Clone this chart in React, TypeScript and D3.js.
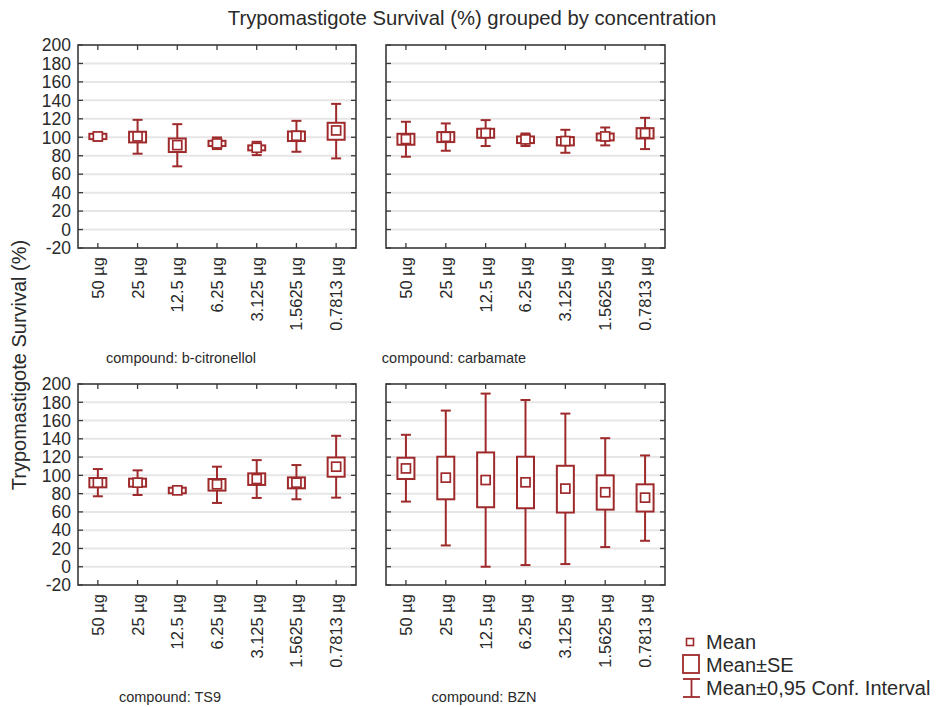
import React from "react";
import * as d3 from "d3";

const categories = ["50 µg", "25 µg", "12.5 µg", "6.25 µg", "3.125 µg", "1.5625 µg", "0.7813 µg"];
const compounds = ["b-citronellol", "carbamate", "TS9", "BZN"];
const yTicks = [-20, 0, 20, 40, 60, 80, 100, 120, 140, 160, 180, 200];

// b-citronellol
const citMean = [100.9, 100.9, 91.5, 93.3, 88.6, 101.6, 107.4];
const citSeLo = [98, 94.4, 84, 90.5, 85.8, 95.9, 97.3];
const citSeHi = [103.8, 106, 98.7, 96.2, 91.2, 106.3, 115.7];
const citCiLo = [96.2, 82.2, 68.5, 87.2, 80.7, 84.3, 77.1];
const citCiHi = [105, 118.9, 114.2, 99.8, 95.1, 117.8, 136.2];

// carbamate
const carMean = [98.0, 100.5, 104.5, 97.7, 95.9, 100.9, 104.5];
const carSeLo = [91.9, 94.8, 99.5, 93.7, 91.2, 96.6, 98.7];
const carSeHi = [103.8, 105.6, 109.2, 100.9, 100.2, 104.1, 109.9];
const carCiLo = [78.9, 85.4, 90.5, 90.5, 83.2, 91.2, 87.2];
const carCiHi = [116.8, 115, 118.6, 104.1, 108.1, 110.6, 121.1];

// TS9
const ts9Mean = [92, 92, 83.6, 90.2, 96, 92, 109.5];
const ts9SeLo = [86.9, 87.6, 80.4, 83.3, 89.5, 85.8, 98.5];
const ts9SeHi = [97.1, 96.4, 86.5, 96, 102.2, 97.8, 119.6];
const ts9CiLo = [77.1, 78.5, 79.6, 69.8, 75.3, 73.8, 75.6];
const ts9CiHi = [106.9, 105.5, 87.3, 109.5, 116.7, 111.3, 143.3];

// BZN
const bznMean = [107.6, 97.5, 94.9, 92.4, 85.5, 81.5, 75.6];
const bznSeLo = [96, 73.8, 65.1, 64, 59.3, 62.5, 60.4];
const bznSeHi = [119.3, 120.4, 125.1, 120.4, 110.5, 100, 90.2];
const bznCiLo = [71.3, 23.3, 0, 1.8, 2.9, 21.5, 28.4];
const bznCiHi = [144.4, 170.9, 189.5, 182.5, 167.6, 140.7, 121.8];

const seriesData = [
  { mean: citMean, seLo: citSeLo, seHi: citSeHi, ciLo: citCiLo, ciHi: citCiHi },
  { mean: carMean, seLo: carSeLo, seHi: carSeHi, ciLo: carCiLo, ciHi: carCiHi },
  { mean: ts9Mean, seLo: ts9SeLo, seHi: ts9SeHi, ciLo: ts9CiLo, ciHi: ts9CiHi },
  { mean: bznMean, seLo: bznSeLo, seHi: bznSeHi, ciLo: bznCiLo, ciHi: bznCiHi },
];

const W = 937;
const H = 707;
const FONT = "Arial, 'Liberation Sans', sans-serif";
const RED = "#9e2a2b";
const FRAME = "#3a3a3a";
const TEXT = "#2a2a2a";

const panels = [
  { x0: 78, x1: 356, y0: 45, y1: 248, yLabels: true, labelX: 181, labelY: 358 },
  { x0: 386, x1: 665, y0: 45, y1: 248, yLabels: false, labelX: 454, labelY: 358 },
  { x0: 78, x1: 356, y0: 384, y1: 585, yLabels: true, labelX: 170, labelY: 697 },
  { x0: 386, x1: 665, y0: 384, y1: 585, yLabels: false, labelX: 484, labelY: 697 },
];

function Panel({ p, data, name }: any) {
  const x = d3.scaleBand<string>().domain(categories).range([p.x0, p.x1]).padding(0);
  const y = d3.scaleLinear().domain([-20, 200]).range([p.y1, p.y0]);
  const tl = 5;
  const boxW = 17;
  const capW = 10;
  const meanW = 9;
  return (
    <g>
      {yTicks.filter((t) => t > -20 && t < 200).map((t) => (
        <line key={"g" + t} x1={p.x0} x2={p.x1} y1={y(t)} y2={y(t)} stroke="#e6e6e6" strokeWidth={2} />
      ))}
      {yTicks.map((t) => (
        <g key={"t" + t}>
          <line x1={p.x0} x2={p.x0 + tl} y1={y(t)} y2={y(t)} stroke={FRAME} strokeWidth={1.3} />
          <line x1={p.x1} x2={p.x1 - tl} y1={y(t)} y2={y(t)} stroke={FRAME} strokeWidth={1.3} />
          {p.yLabels && (
            <text x={p.x0 - 7} y={y(t)} dy="0.36em" textAnchor="end" fontSize={17.5} fill={TEXT} fontFamily={FONT}>
              {t}
            </text>
          )}
        </g>
      ))}
      {categories.map((c) => {
        const cx = (x(c) as number) + x.bandwidth() / 2;
        return (
          <g key={"c" + c}>
            <line x1={cx} x2={cx} y1={p.y0} y2={p.y0 + tl} stroke={FRAME} strokeWidth={1.3} />
            <line x1={cx} x2={cx} y1={p.y1} y2={p.y1 - tl} stroke={FRAME} strokeWidth={1.3} />
            <text
              transform={`translate(${cx},${p.y1 + 9}) rotate(-90)`}
              textAnchor="end"
              dy="0.36em"
              fontSize={16.5}
              fill={TEXT}
              fontFamily={FONT}
            >
              {c}
            </text>
          </g>
        );
      })}
      {categories.map((c, i) => {
        const cx = (x(c) as number) + x.bandwidth() / 2;
        return (
          <g key={"m" + c}>
            <line x1={cx} x2={cx} y1={y(data.ciHi[i])} y2={y(data.ciLo[i])} stroke={RED} strokeWidth={2} />
            <line x1={cx - capW / 2} x2={cx + capW / 2} y1={y(data.ciHi[i])} y2={y(data.ciHi[i])} stroke={RED} strokeWidth={2} />
            <line x1={cx - capW / 2} x2={cx + capW / 2} y1={y(data.ciLo[i])} y2={y(data.ciLo[i])} stroke={RED} strokeWidth={2} />
            <rect
              x={cx - boxW / 2}
              y={y(data.seHi[i])}
              width={boxW}
              height={y(data.seLo[i]) - y(data.seHi[i])}
              fill="#fff"
              stroke={RED}
              strokeWidth={2}
            />
            <rect
              x={cx - meanW / 2}
              y={y(data.mean[i]) - meanW / 2}
              width={meanW}
              height={meanW}
              fill="#fff"
              stroke={RED}
              strokeWidth={1.7}
            />
          </g>
        );
      })}
      <rect x={p.x0} y={p.y0} width={p.x1 - p.x0} height={p.y1 - p.y0} fill="none" stroke={FRAME} strokeWidth={1.6} />
      <text x={p.labelX} y={p.labelY} dy="0.36em" textAnchor="middle" fontSize={14.5} fill={TEXT} fontFamily={FONT}>
        {"compound: " + name}
      </text>
    </g>
  );
}

export default function App() {
  return (
    <svg width={W} height={H} style={{ position: "absolute", left: 0, top: 0, background: "#fff" }}>
      <rect x={0} y={0} width={W} height={H} fill="#fff" />
      <text x={472} y={18} dy="0.36em" textAnchor="middle" fontSize={20.3} fill={TEXT} fontFamily={FONT}>
        Trypomastigote Survival (%) grouped by concentration
      </text>
      <text
        transform="translate(19,365) rotate(-90)"
        textAnchor="middle"
        dy="0.36em"
        fontSize={20}
        fill={TEXT}
        fontFamily={FONT}
      >
        Trypomastigote Survival (%)
      </text>
      {panels.map((p, i) => (
        <Panel key={i} p={p} data={seriesData[i]} name={compounds[i]} />
      ))}
      <g>
        <rect x={686.5} y={638.5} width={7} height={7} fill="#fff" stroke={RED} strokeWidth={1.6} />
        <text x={706} y={642} dy="0.36em" fontSize={20} fill={TEXT} fontFamily={FONT}>Mean</text>
        <rect x={683} y={655} width={16} height={18} fill="#fff" stroke={RED} strokeWidth={1.8} />
        <text x={706} y={665} dy="0.36em" fontSize={20} fill={TEXT} fontFamily={FONT}>Mean±SE</text>
        <line x1={691.5} x2={691.5} y1={679} y2={697} stroke={RED} strokeWidth={1.8} />
        <line x1={683} x2={700} y1={679} y2={679} stroke={RED} strokeWidth={1.8} />
        <line x1={683} x2={700} y1={697} y2={697} stroke={RED} strokeWidth={1.8} />
        <text x={706} y={688} dy="0.36em" fontSize={20} fill={TEXT} fontFamily={FONT}>Mean±0,95 Conf. Interval</text>
      </g>
    </svg>
  );
}
